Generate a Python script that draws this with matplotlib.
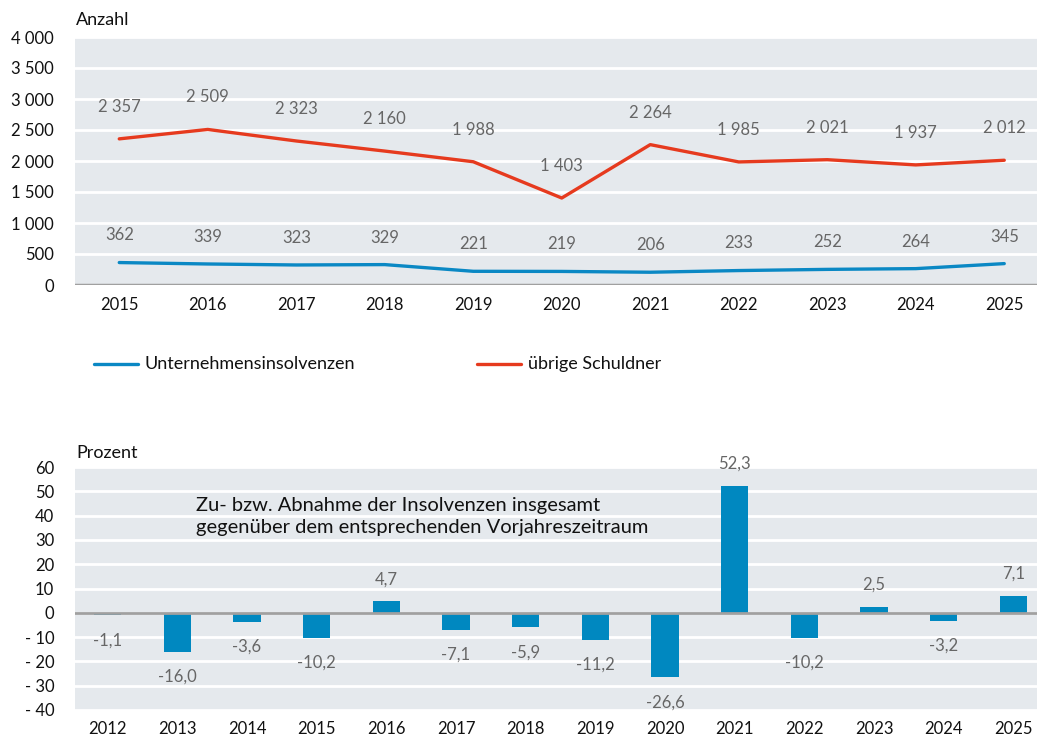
import matplotlib
matplotlib.use("Agg")
import matplotlib.pyplot as plt
from matplotlib.lines import Line2D

plt.rcParams['font.family'] = ['Lato', 'DejaVu Sans']

years_top = ['2015', '2016', '2017', '2018', '2019', '2020', '2021', '2022', '2023', '2024', '2025']
unternehmen = [362, 339, 323, 329, 221, 219, 206, 233, 252, 264, 345]
uebrige = [2357, 2509, 2323, 2160, 1988, 1403, 2264, 1985, 2021, 1937, 2012]

years_bot = ['2012', '2013', '2014', '2015', '2016', '2017', '2018', '2019', '2020',
             '2021', '2022', '2023', '2024', '2025']
veraenderung = [-1.1, -16.0, -3.6, -10.2, 4.7, -7.1, -5.9, -11.2, -26.6, 52.3, -10.2, 2.5, -3.2, 7.1]

BG = '#e5e9ed'
BLUE = '#0a88c4'
RED = '#e63a1e'
BAR = '#0088c0'
LBL = '#666666'
W, H = 1037, 736

fig = plt.figure(figsize=(W/100, H/100), dpi=100)

def ax_rect(x0, top, x1, bottom):
    return [x0/W, 1 - bottom/H, (x1-x0)/W, (bottom-top)/H]

def fmt_thousands(v):
    return f"{int(v):,}".replace(',', ' ')

# ---------- Top chart ----------
ax1 = fig.add_axes(ax_rect(75, 37, 1037, 285))
ax1.set_facecolor(BG)
x1 = list(range(len(years_top)))
ax1.set_xlim(-0.5, 10.37)
ax1.set_ylim(0, 4000)
ax1.set_yticks(range(0, 4001, 500))
ax1.set_yticklabels([fmt_thousands(v) for v in range(0, 4001, 500)])
ax1.grid(axis='y', color='white', linewidth=2)
ax1.set_axisbelow(True)
for s in ax1.spines.values():
    s.set_visible(False)
ax1.axhline(0, color='#a0a0a0', linewidth=2.5, zorder=3)
ax1.plot(x1, uebrige, color=RED, linewidth=2.4, solid_capstyle='round', zorder=4)
ax1.plot(x1, unternehmen, color=BLUE, linewidth=2.4, solid_capstyle='round', zorder=4)
ax1.set_xticks(x1)
ax1.set_xticklabels(years_top)
ax1.tick_params(axis='both', length=0, labelsize=12, colors='#111111')
ax1.tick_params(axis='x', pad=9)
ax1.tick_params(axis='y', pad=15)
for xi, v in zip(x1, uebrige):
    ax1.annotate(fmt_thousands(v), (xi, v), xytext=(0, 23), textcoords='offset points',
                 ha='center', va='center', fontsize=12, color=LBL)
for xi, v in zip(x1, unternehmen):
    ax1.annotate(fmt_thousands(v), (xi, v), xytext=(0, 19.5), textcoords='offset points',
                 ha='center', va='center', fontsize=12, color=LBL)
fig.text(76/W, 1 - 20/H, 'Anzahl', ha='left', va='center', fontsize=13, color='#111111')

# Legend
fig.add_artist(Line2D([94/W, 138/W], [1 - 364/H]*2, color=BLUE, linewidth=2.4, solid_capstyle='round'))
fig.text(145/W, 1 - 364/H, 'Unternehmensinsolvenzen', ha='left', va='center', fontsize=13, color='#111111')
fig.add_artist(Line2D([477/W, 521/W], [1 - 364/H]*2, color=RED, linewidth=2.4, solid_capstyle='round'))
fig.text(528/W, 1 - 364/H, 'übrige Schuldner', ha='left', va='center', fontsize=13, color='#111111')

# ---------- Bottom chart ----------
ax2 = fig.add_axes(ax_rect(75, 467, 1037, 710))
ax2.set_facecolor(BG)
x2 = list(range(len(years_bot)))
ax2.set_xlim(-0.47, 13.34)
ax2.set_ylim(-40, 60)
yt = list(range(-40, 61, 10))
ax2.set_yticks(yt)
ax2.set_yticklabels([f"- {abs(v)}" if v < 0 else f"{v}" for v in yt])
ax2.grid(axis='y', color='white', linewidth=2)
ax2.set_axisbelow(True)
for s in ax2.spines.values():
    s.set_visible(False)
ax2.bar(x2, veraenderung, width=0.39, color=BAR, zorder=3)
ax2.axhline(0, color='#a0a0a0', linewidth=2, zorder=4)
ax2.set_xticks(x2)
ax2.set_xticklabels(years_bot)
ax2.tick_params(axis='both', length=0, labelsize=12, colors='#111111')
ax2.tick_params(axis='x', pad=8)
ax2.tick_params(axis='y', pad=15)
for xi, v in zip(x2, veraenderung):
    txt = f"{v:.1f}".replace('.', ',')
    off = 16 if v >= 0 else -18
    ax2.annotate(txt, (xi, v), xytext=(0, off), textcoords='offset points',
                 ha='center', va='center', fontsize=12, color=LBL)
fig.text(76/W, 1 - 453/H, 'Prozent', ha='left', va='center', fontsize=13, color='#111111')
fig.text(196/W, 1 - 516.5/H,
         'Zu- bzw. Abnahme der Insolvenzen insgesamt\ngegenüber dem entsprechenden Vorjahreszeitraum',
         ha='left', va='center', fontsize=14.5, color='#111111', linespacing=1.3)

fig.savefig('out.png', dpi=100)
